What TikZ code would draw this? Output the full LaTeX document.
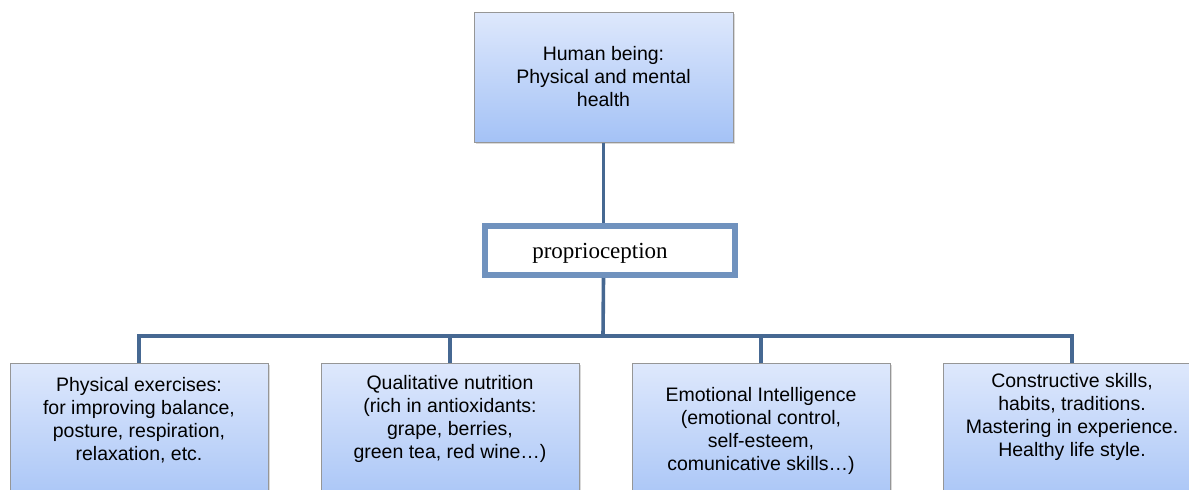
\documentclass[tikz,border=0pt]{standalone}
\usepackage{fontspec}
\setmainfont{Liberation Serif}
\setsansfont{Liberation Sans}
\usetikzlibrary{shadows}
\definecolor{linkblue}{RGB}{70,104,146}
\definecolor{propblue}{RGB}{112,146,190}
\definecolor{boxtop}{RGB}{222,232,252}
\definecolor{boxbot}{RGB}{164,194,246}
\definecolor{boxline}{RGB}{150,150,150}

\begin{document}
\begin{tikzpicture}[x=1pt,y=-1pt,
	box/.style={draw=boxline,line width=1pt,top color=boxtop,bottom color=boxbot,
		minimum width=258pt,drop shadow={shadow xshift=1.5pt,shadow yshift=-1.5pt,opacity=.3}},
	leaf/.style={box,anchor=north,minimum height=150pt},
	leaftext/.style={anchor=north,align=center,font=\sffamily\fontsize{19.5}{23}\selectfont},
	link/.style={draw=linkblue,line width=3.6pt}]

		\useasboundingbox (0,0) rectangle (1189,490);
		\clip (0,0) rectangle (1189,490);

		% top and middle
		\node[box,minimum width=259pt,minimum height=130pt,align=center,
			font=\sffamily\fontsize{19.5}{23}\selectfont] (top) at (603.5,77) {Human being:\\Physical and mental\\health};
		\node[draw=propblue,line width=6pt,fill=white,minimum width=250pt,minimum height=49pt,
			font=\fontsize{23}{27}\selectfont] (prop) at (610,250.5) {\raisebox{-7.5pt}[0pt][0pt]{proprioception}\hspace*{20pt}};

		% four leaves
		\node[leaf,label={[leaftext,yshift=-10.7pt]north:{Physical exercises:\\for improving balance,\\posture, respiration,\\relaxation, etc.}}] (b1) at ( 139,363) {};
		\node[leaf,label={[leaftext,yshift=-8.7pt]north:{Qualitative nutrition\\(rich in antioxidants:\\grape, berries,\\green tea, red wine…)}}] (b2) at ( 450,363) {};
		\node[leaf,label={[leaftext,yshift=-20.7pt]north:{Emotional Intelligence\\(emotional control,\\self-esteem,\\comunicative skills…)}}] (b3) at ( 761,363) {};
		\node[leaf,label={[leaftext,yshift=-6.7pt]north:{Constructive skills,\\habits, traditions.\\Mastering in experience.\\Healthy life style.}}] (b4) at (1072,363) {};

		\coordinate (bus) at (603,336);

		\draw[link] (top.south) -- (top.south |- prop.north);
		\draw[link] (top.south |- prop.south) -- (bus);
		\draw[link] (b1.north) |- (bus) -| (b4.north);
		\draw[link] (b2.north) -- (b2.north |- bus);
		\draw[link] (b3.north) -- (b3.north |- bus);

	\end{tikzpicture}
\end{document}
